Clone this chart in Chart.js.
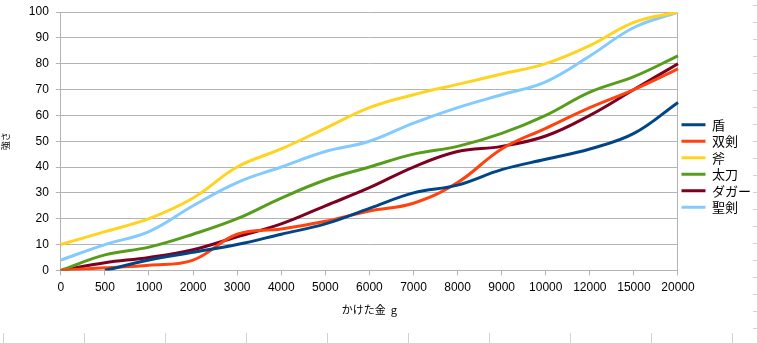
<!DOCTYPE html>
<html>
<head>
<meta charset="utf-8">
<script src="https://cdn.jsdelivr.net/npm/chart.js@4/dist/chart.umd.min.js"></script>
<style>
  html, body { margin: 0; padding: 0; background: #fff; }
</style>
</head>
<body>
<canvas id="strengthChart" width="757" height="343"></canvas>
<script>
// gold spent (category axis) and strength per weapon
const spent = ['0', '500', '1000', '2000', '3000', '4000', '5000', '6000', '7000', '8000', '9000', '10000', '12000', '15000', '20000'];
const shield = [null, 0, 4, 7, 10, 14, 18, 24, 30, 33, 39, 43, 47, 53, 65];
const dualBlades = [0, 1, 2, 4, 14, 16, 19, 23, 26, 34, 47, 55, 63, 70, 78];
const axe = [10, 15, 20, 28, 40, 47, 55, 63, 68, 72, 76, 80, 87, 96, 100];
const tachi = [0, 6, 9, 14, 20, 28, 35, 40, 45, 48, 53, 60, 69, 75, 83];
const dagger = [0, 3, 5, 8, 13, 18, 25, 32, 40, 46, 48, 52, 60, 70, 80];
const holySword = [4, 10, 15, 25, 34, 40, 46, 50, 57, 63, 68, 73, 83, 94, 100];
const strengthTicks = [0, 10, 20, 30, 40, 50, 60, 70, 80, 90, 100];

const cjk = '"Noto Sans CJK JP", "Noto Sans", sans-serif';
const tickFont = { family: '"Liberation Sans", Arial, sans-serif', size: 12 };
const gridGray = '#b3b3b3';

function series(label, data, color) {
  return {
    label, data,
    borderColor: color,
    backgroundColor: color,
    borderWidth: 3,
    pointRadius: 0,
    pointHoverRadius: 0,
    tension: 0.4,
    fill: false
  };
}

// faint spreadsheet cell edges behind the chart
const sheetLines = {
  id: 'sheetLines',
  beforeDraw(chart) {
    const ctx = chart.ctx;
    ctx.save();
    ctx.fillStyle = '#fff';
    ctx.fillRect(0, 0, chart.width, chart.height);
    ctx.strokeStyle = '#d2d2d2';
    ctx.lineWidth = 1;
    ctx.beginPath();
    for (let x = 3.5; x < chart.width; x += 81) { ctx.moveTo(x, 333); ctx.lineTo(x, 343); }
    for (let y = 5.5; y < 330; y += 17) { ctx.moveTo(753, y); ctx.lineTo(757, y); }
    ctx.stroke();
    ctx.restore();
  }
};

new Chart(document.getElementById('strengthChart'), {
  type: 'line',
  data: {
    labels: spent,
    datasets: [
      series('盾', shield, '#004586'),
      series('双剣', dualBlades, '#ff420e'),
      series('斧', axe, '#ffd320'),
      series('太刀', tachi, '#579d1c'),
      series('ダガー', dagger, '#7e0021'),
      series('聖剣', holySword, '#83caff')
    ]
  },
  options: {
    responsive: false,
    animation: false,
    // legend box carries spare width on its right, let it run off the edge
    layout: { padding: { top: 12, right: -4, bottom: 23, left: 0 } },
    plugins: {
      tooltip: { enabled: false },
      legend: {
        position: 'right',
        align: 'center',
        labels: {
          usePointStyle: true,
          pointStyle: 'line',
          pointStyleWidth: 24,
          padding: 3.5,
          color: '#000',
          font: { family: cjk, size: 13 }
        }
      }
    },
    scales: {
      x: {
        offset: false,
        grid: {
          // only the closing edge on the right is drawn across the plot
          color: c => c.index === spent.length - 1 ? gridGray : 'transparent',
          tickColor: gridGray,
          tickLength: 5
        },
        border: { color: gridGray },
        ticks: { color: '#000', font: tickFont, padding: 5, maxRotation: 0, autoSkip: false },
        title: {
          display: true,
          text: 'かけた金  g',
          color: '#000',
          font: { family: cjk, size: 11 },
          padding: { top: 3, bottom: 4 }
        },
        afterFit(scale) { scale.paddingRight = 0; }
      },
      y: {
        min: 0,
        max: 100,
        afterBuildTicks(scale) { scale.ticks = strengthTicks.map(v => ({ value: v })); },
        grid: { color: gridGray, tickLength: 5 },
        border: { color: gridGray },
        ticks: { color: '#000', font: tickFont, padding: 7 },
        title: {
          display: true,
          text: '強さ',
          color: '#000',
          font: { family: cjk, size: 9 },
          padding: { top: 0, bottom: 11 }
        },
        afterFit(scale) { scale.paddingTop = 0; }
      }
    }
  },
  plugins: [sheetLines]
});
</script>
</body>
</html>
